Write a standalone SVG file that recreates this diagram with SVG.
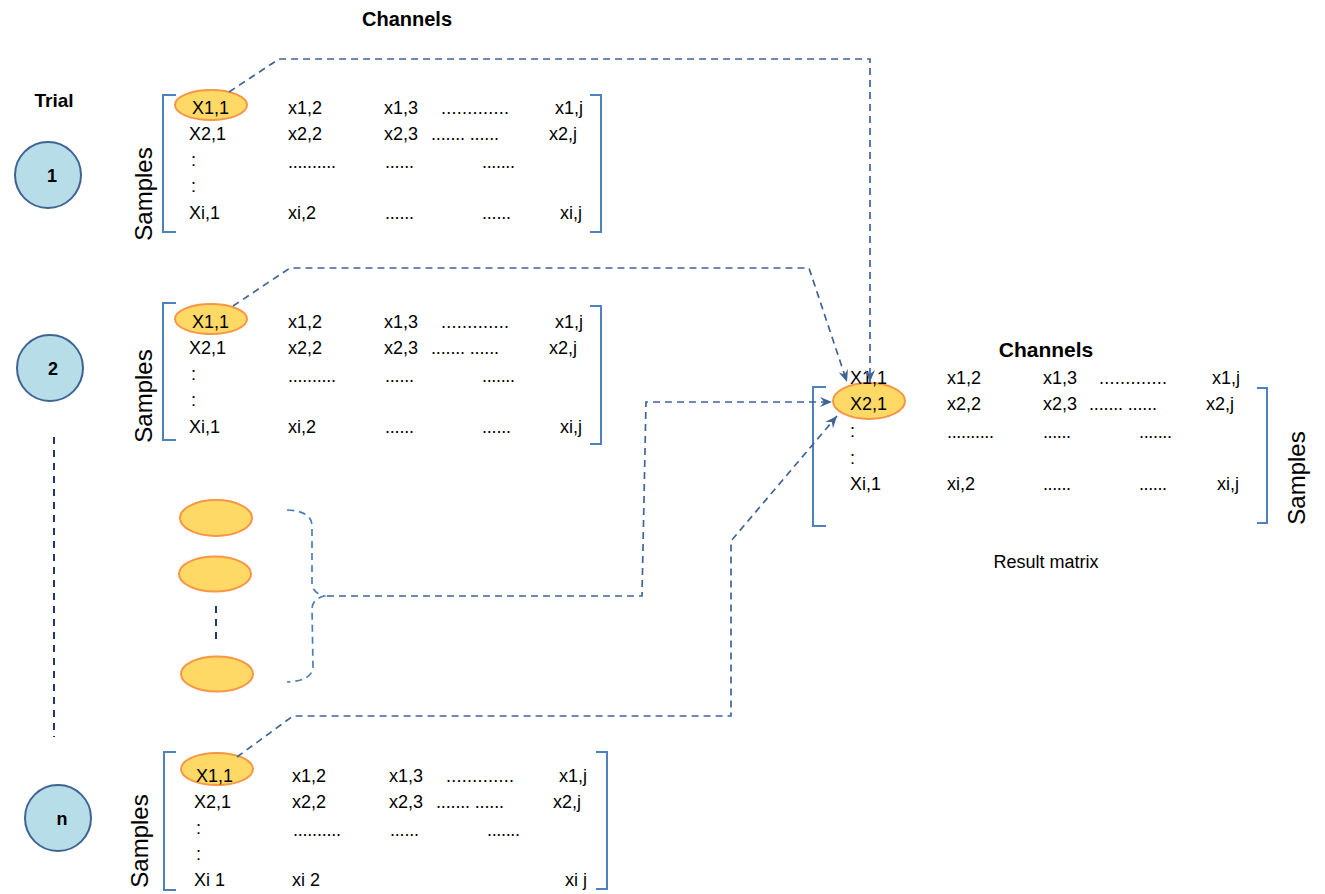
<svg xmlns="http://www.w3.org/2000/svg" width="1325" height="894" viewBox="0 0 1325 894">
<style>
.t{font-family:"Liberation Sans",Arial,sans-serif;font-size:18px;fill:#000}
.b{font-family:"Liberation Sans",Arial,sans-serif;font-weight:bold;fill:#000}
.s{font-family:"Liberation Sans",Arial,sans-serif;font-size:24px;fill:#000}
.trial{fill:#b7dee8;stroke:#3e6494;stroke-width:2}
.cell{fill:#ffd966;stroke:#f79646;stroke-width:2}
.br{fill:none;stroke:#4f81bd;stroke-width:2}
.con{fill:none;stroke:#3f6496;stroke-width:1.7;stroke-dasharray:7 5}
.brace{fill:none;stroke:#4a7ebb;stroke-width:1.7;stroke-dasharray:7 5}
.nav{fill:none;stroke:#1f3864;stroke-width:2;stroke-dasharray:7 6}
</style>
<defs>
<marker id="arr" viewBox="0 0 12 10" refX="12" refY="5" markerWidth="12" markerHeight="10" markerUnits="userSpaceOnUse" orient="auto">
<path d="M0,0 L12,5 L0,10 L4,5 z" fill="#3f6496"/>
</marker>
</defs>

<text class="b" x="407" y="26" font-size="20" text-anchor="middle">Channels</text>
<text class="b" x="54" y="107" font-size="19" text-anchor="middle">Trial</text>

<g id="trial1"><circle class="trial" cx="48" cy="175" r="33"/><text class="b" x="52" y="182" font-size="18" text-anchor="middle">1</text></g>
<g id="trial2"><circle class="trial" cx="50" cy="368" r="33"/><text class="b" x="53" y="375" font-size="18" text-anchor="middle">2</text></g>
<g id="trialn"><circle class="trial" cx="58" cy="818" r="33"/><text class="b" x="62" y="825" font-size="18" text-anchor="middle">n</text></g>
<line class="nav" x1="54" y1="437" x2="54" y2="737"/>

<g id="matrix1">
<path class="br" d="M176,95 H163 V232 H176"/>
<path class="br" d="M590,95 H601 V232 H590"/>
<ellipse class="cell" cx="211" cy="105" rx="36" ry="15"/>
<text class="s" transform="translate(152,194) rotate(-90)" text-anchor="middle">Samples</text>
<text class="t" x="192" y="114">X1,1</text><text class="t" x="288" y="114">x1,2</text><text class="t" x="384" y="114">x1,3</text><text class="t" x="441" y="114" textLength="68" lengthAdjust="spacing">.............</text><text class="t" x="555" y="114">x1,j</text>
<text class="t" x="189" y="140">X2,1</text><text class="t" x="288" y="140">x2,2</text><text class="t" x="384" y="140">x2,3</text><text class="t" x="431" y="140" textLength="68" lengthAdjust="spacing">....... ......</text><text class="t" x="549" y="140">x2,j</text>
<text class="t" x="191" y="166">:</text><text class="t" x="288" y="168" textLength="48" lengthAdjust="spacing">..........</text><text class="t" x="385" y="168" textLength="29" lengthAdjust="spacing">......</text><text class="t" x="482" y="168" textLength="33" lengthAdjust="spacing">.......</text>
<text class="t" x="191" y="192">:</text>
<text class="t" x="189" y="219">Xi,1</text><text class="t" x="288" y="219">xi,2</text><text class="t" x="385" y="219" textLength="29" lengthAdjust="spacing">......</text><text class="t" x="482" y="219" textLength="29" lengthAdjust="spacing">......</text><text class="t" x="560" y="219">xi,j</text>
</g>

<g id="matrix2">
<path class="br" d="M176,303 H163 V440 H176"/>
<path class="br" d="M590,306 H601 V444 H590"/>
<ellipse class="cell" cx="211" cy="319" rx="36" ry="15"/>
<text class="s" transform="translate(152,396) rotate(-90)" text-anchor="middle">Samples</text>
<text class="t" x="192" y="328">X1,1</text><text class="t" x="288" y="328">x1,2</text><text class="t" x="384" y="328">x1,3</text><text class="t" x="441" y="328" textLength="68" lengthAdjust="spacing">.............</text><text class="t" x="555" y="328">x1,j</text>
<text class="t" x="189" y="354">X2,1</text><text class="t" x="288" y="354">x2,2</text><text class="t" x="384" y="354">x2,3</text><text class="t" x="431" y="354" textLength="68" lengthAdjust="spacing">....... ......</text><text class="t" x="549" y="354">x2,j</text>
<text class="t" x="191" y="380">:</text><text class="t" x="288" y="382" textLength="48" lengthAdjust="spacing">..........</text><text class="t" x="385" y="382" textLength="29" lengthAdjust="spacing">......</text><text class="t" x="482" y="382" textLength="33" lengthAdjust="spacing">.......</text>
<text class="t" x="191" y="406">:</text>
<text class="t" x="189" y="433">Xi,1</text><text class="t" x="288" y="433">xi,2</text><text class="t" x="385" y="433" textLength="29" lengthAdjust="spacing">......</text><text class="t" x="482" y="433" textLength="29" lengthAdjust="spacing">......</text><text class="t" x="560" y="433">xi,j</text>
</g>

<g id="partials">
<ellipse class="cell" cx="216" cy="518" rx="36" ry="18"/>
<ellipse class="cell" cx="215" cy="574" rx="36" ry="17.5"/>
<ellipse class="cell" cx="217" cy="674" rx="36" ry="17.5"/>
<line class="nav" x1="216" y1="606" x2="216" y2="642"/>
<path class="brace" d="M287,510 Q312,511 312,526 L312,584 Q313,593 324,596 Q313,599 312,608 L313,667 Q312,681 287,682"/>
</g>

<g id="matrixn">
<path class="br" d="M176,752 H164 V890 H176"/>
<path class="br" d="M596,752 H607 V889 H596"/>
<ellipse class="cell" cx="217" cy="769" rx="36" ry="16"/>
<text class="s" transform="translate(148,841) rotate(-90)" text-anchor="middle">Samples</text>
<text class="t" x="196" y="782">X1,1</text><text class="t" x="292" y="782">x1,2</text><text class="t" x="389" y="782">x1,3</text><text class="t" x="446" y="782" textLength="68" lengthAdjust="spacing">.............</text><text class="t" x="559" y="782">x1,j</text>
<text class="t" x="194" y="808">X2,1</text><text class="t" x="292" y="808">x2,2</text><text class="t" x="389" y="808">x2,3</text><text class="t" x="436" y="808" textLength="68" lengthAdjust="spacing">....... ......</text><text class="t" x="553" y="808">x2,j</text>
<text class="t" x="196" y="834">:</text><text class="t" x="293" y="836" textLength="48" lengthAdjust="spacing">..........</text><text class="t" x="390" y="836" textLength="29" lengthAdjust="spacing">......</text><text class="t" x="487" y="836" textLength="33" lengthAdjust="spacing">.......</text>
<text class="t" x="196" y="860">:</text>
<text class="t" x="194" y="886">Xi 1</text><text class="t" x="292" y="886">xi 2</text><text class="t" x="565" y="886">xi j</text>
</g>

<g id="result">
<text class="b" x="1046" y="357" font-size="21" text-anchor="middle">Channels</text>
<path class="br" d="M826,387 H813 V526 H826"/>
<path class="br" d="M1257,388 H1267 V523 H1257"/>
<ellipse class="cell" cx="869" cy="401" rx="36" ry="18"/>
<text class="s" transform="translate(1305,478) rotate(-90)" text-anchor="middle">Samples</text>
<text class="t" x="850" y="384">X1,1</text><text class="t" x="947" y="384">x1,2</text><text class="t" x="1043" y="384">x1,3</text><text class="t" x="1099" y="384" textLength="68" lengthAdjust="spacing">.............</text><text class="t" x="1212" y="384">x1,j</text>
<text class="t" x="850" y="410">X2,1</text><text class="t" x="947" y="410">x2,2</text><text class="t" x="1043" y="410">x2,3</text><text class="t" x="1089" y="410" textLength="68" lengthAdjust="spacing">....... ......</text><text class="t" x="1206" y="410">x2,j</text>
<text class="t" x="850" y="437">:</text><text class="t" x="947" y="438" textLength="47" lengthAdjust="spacing">..........</text><text class="t" x="1043" y="438" textLength="28" lengthAdjust="spacing">......</text><text class="t" x="1139" y="438" textLength="33" lengthAdjust="spacing">.......</text>
<text class="t" x="850" y="464">:</text>
<text class="t" x="850" y="490">Xi,1</text><text class="t" x="947" y="490">xi,2</text><text class="t" x="1043" y="490" textLength="28" lengthAdjust="spacing">......</text><text class="t" x="1139" y="490" textLength="28" lengthAdjust="spacing">......</text><text class="t" x="1217" y="490">xi,j</text>
<text class="t" x="1046" y="568" text-anchor="middle">Result matrix</text>
</g>

<g id="connectors">
<path class="con" d="M229,92 L279,59 H870 V382" marker-end="url(#arr)"/>
<path class="con" d="M233,306 L290,268 H809 L847,382" marker-end="url(#arr)"/>
<path class="con" d="M327,596 H642 L646,402 H832" marker-end="url(#arr)"/>
<path class="con" d="M237,757 L293,716 H731 V541 L837,416" marker-end="url(#arr)"/>
</g>
</svg>
